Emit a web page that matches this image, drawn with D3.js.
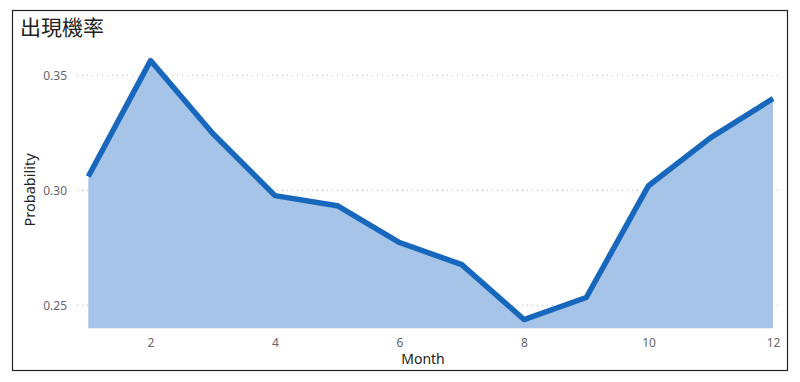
<!DOCTYPE html>
<html><head><meta charset="utf-8">
<script src="https://cdn.jsdelivr.net/npm/d3@7"></script>
<style>body{margin:0;background:#fff;} svg{display:block;}</style>
</head><body>
<svg id="c" width="800" height="382"></svg>
<script>
const months = [1,2,3,4,5,6,7,8,9,10,11,12];
const probability = [0.306,0.3564,0.3247,0.2977,0.2933,0.2773,0.2677,0.2438,0.2534,0.302,0.3229,0.3399];
const xTicks = [2,4,6,8,10,12];
const yTicks = [0.25,0.30,0.35];
const title = "出現機率";
const xLabel = "Month";
const yLabel = "Probability";

const svg = d3.select("#c");
svg.append("rect").attr("x",12.5).attr("y",10.5).attr("width",775).attr("height",360)
  .attr("fill","#fff").attr("stroke","#222").attr("stroke-width",1.2);

const x = d3.scaleLinear().domain([1,12]).range([88.3,773]);
const y = d3.scaleLinear().domain([0.24,0.36]).range([328.3,52.3]);

const grid = svg.append("g");
yTicks.forEach(t=>{
  grid.append("line").attr("x1",77).attr("x2",780).attr("y1",y(t)).attr("y2",y(t))
    .attr("stroke","#b4b4b4").attr("stroke-width",1).attr("stroke-dasharray","1,4");
});

const yAxis = svg.append("g").attr("transform","translate(77,0)")
  .call(d3.axisLeft(y).tickValues(yTicks).tickFormat(d3.format(".2f")).tickSize(0).tickPadding(10));
yAxis.select(".domain").remove();
yAxis.selectAll("text").attr("fill","#666").style("font-family","'Noto Sans', sans-serif").style("font-size","12px");

const xAxis = svg.append("g").attr("transform","translate(0,336)")
  .call(d3.axisBottom(x).tickValues(xTicks).tickFormat(d3.format("d")).tickSize(0).tickPadding(2));
xAxis.select(".domain").remove();
xAxis.selectAll("text").attr("fill","#666").style("font-family","'Noto Sans', sans-serif").style("font-size","12px");

const data = months.map((m,i)=>({m, v:probability[i]}));
svg.append("path").datum(data)
  .attr("d", d3.area().x(d=>x(d.m)).y0(y(0.24)).y1(d=>y(d.v)))
  .attr("fill","#a6c4e8");
svg.append("path").datum(data)
  .attr("d", d3.line().x(d=>x(d.m)).y(d=>y(d.v)))
  .attr("fill","none").attr("stroke","#1768bd").attr("stroke-width",5.5)
  .attr("stroke-linejoin","round").attr("stroke-linecap","butt");

svg.append("text").attr("x",20).attr("y",35).text(title)
  .style("font-family","'Noto Sans CJK TC', sans-serif").style("font-size","21px").attr("fill","#222");
svg.append("text").attr("x",423).attr("y",364).attr("text-anchor","middle").text(xLabel)
  .style("font-family","'Noto Sans', sans-serif").style("font-size","14px").attr("fill","#222");
svg.append("text").attr("transform","translate(35,190) rotate(-90)").attr("text-anchor","middle").text(yLabel)
  .style("font-family","'Noto Sans', sans-serif").style("font-size","14.5px").attr("fill","#222");
</script>
</body></html>
